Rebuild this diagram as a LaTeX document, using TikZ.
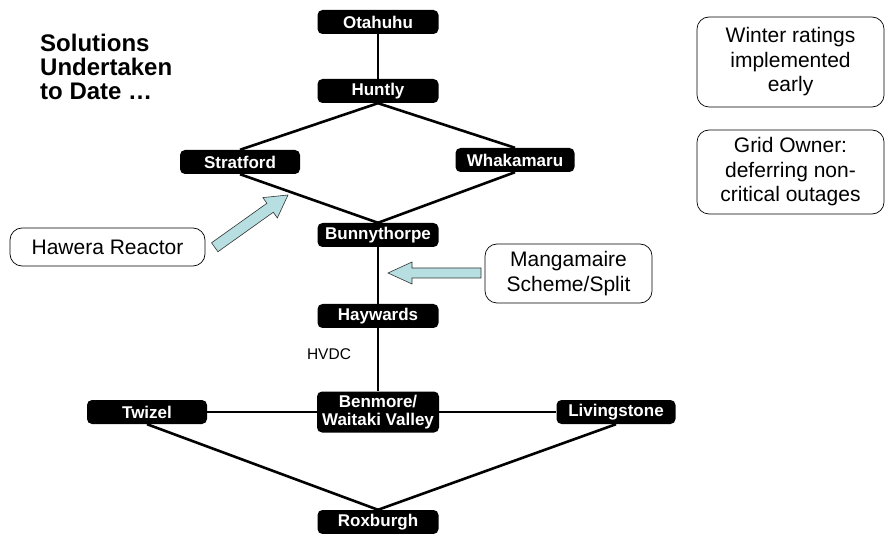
\documentclass[tikz,border=0pt]{standalone}
\usepackage{fontspec}
\setmainfont{Liberation Sans}
\definecolor{arrowblue}{RGB}{183,222,224}
\tikzset{
  site/.style={fill=black, rounded corners=5pt, text=white, font=\bfseries\fontsize{17}{18.5}\selectfont, minimum width=121pt, minimum height=24pt, inner sep=1pt, align=center},
  note/.style={draw, rounded corners=12pt, line width=0.7pt, font=\fontsize{21}{24.5}\selectfont, align=center, inner sep=2pt},
  link/.style={line width=2.6pt},
  pointer/.style={draw=black!80, fill=arrowblue, line width=0.6pt, line join=miter}
}
\begin{document}
\begin{tikzpicture}[x=1pt, y=1pt, line join=round]
  \useasboundingbox (0,0) rectangle (885,533);
  % title
  \node[anchor=north west, align=left, font=\bfseries\fontsize{24}{24}\selectfont, inner sep=0pt] (title) at (40,499) {Solutions\\Undertaken\\to Date \dots};
  % grid sites
  \node[site] (otahuhu) at (378,511) {Otahuhu};
  \node[site] (huntly) at (378,442) {Huntly};
  \node[site, minimum width=120pt] (stratford) at (240,371) {Stratford};
  \node[site, minimum width=119pt] (whakamaru) at (515,373) {Whakamaru};
  \node[site] (bunnythorpe) at (378,298) {Bunnythorpe};
  \node[site] (haywards) at (378,217) {Haywards};
  \node[site, minimum width=122pt, minimum height=41pt] (benmore) at (378,121) {Benmore/\\Waitaki Valley};
  \node[site, minimum width=120pt] (twizel) at (147,121) {Twizel};
  \node[site, minimum width=119pt] (livingstone) at (616,121) {Livingstone};
  \node[site] (roxburgh) at (378,11) {Roxburgh};
  \node[font=\fontsize{15.5}{17}\selectfont] (hvdc) at (329,179) {HVDC};
  % lines
  \draw[link] (otahuhu) -- (huntly);
  \draw[link] (huntly.south) -- (stratford.north);
  \draw[link] (huntly.south) -- (whakamaru.north);
  \draw[link] (stratford.south) -- (bunnythorpe.north);
  \draw[link] (whakamaru.south) -- (bunnythorpe.north);
  \draw[link] (bunnythorpe) -- (haywards);
  \draw[link] (haywards) -- (benmore);
  \draw[link] (twizel) -- (benmore);
  \draw[link] (benmore) -- (livingstone);
  \draw[link] (twizel.south) -- (roxburgh.north);
  \draw[link] (livingstone.south) -- (roxburgh.north);
  % solutions
  \node[note, minimum width=195pt, minimum height=38pt] (hawera) at (107.5,286) {Hawera Reactor};
  \node[note, minimum width=167pt, minimum height=59pt] (mangamaire) at (568.5,259.5) {Mangamaire\\Scheme/Split};
  \node[note, minimum width=187pt, minimum height=90pt] (winter) at (790.5,471) {Winter ratings\\implemented\\early};
  \node[note, minimum width=187pt, minimum height=84pt] (gridowner) at (790.5,361) {Grid Owner:\\deferring non-\\critical outages};
  \draw[pointer, shift={(288,338)}, rotate=215.5] (0,0) -- (22,12.5) -- (22,5.5) -- (90,5.5) -- (90,-5.5) -- (22,-5.5) -- (22,-12.5) -- cycle;
  \draw[pointer, shift={(388,260)}] (0,0) -- (24,11) -- (24,5) -- (93,5) -- (93,-5) -- (24,-5) -- (24,-11) -- cycle;
\end{tikzpicture}
\end{document}
